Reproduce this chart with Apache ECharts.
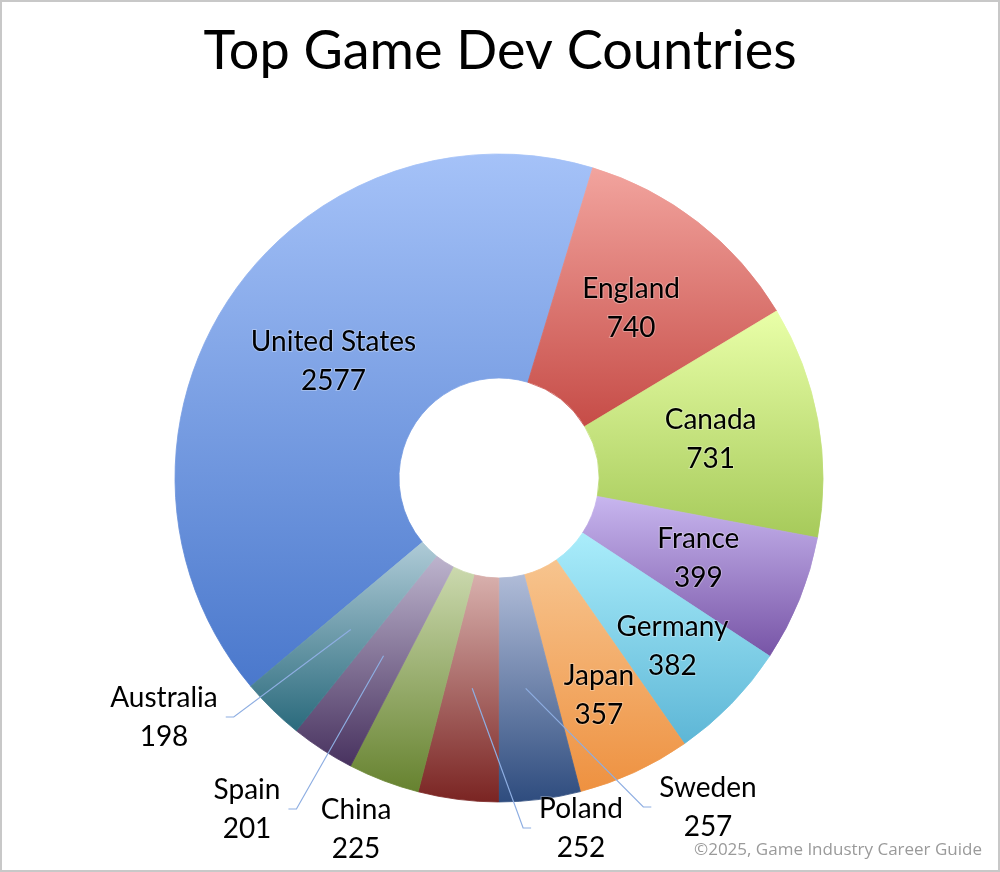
<!DOCTYPE html>
<html><head><meta charset="utf-8">
<script src="https://cdn.jsdelivr.net/npm/echarts@6/dist/echarts.min.js"></script>
<style>html,body{margin:0;padding:0;background:#fff}#c{width:1000px;height:872px}</style>
</head><body><div id="c"></div>
<script>
// ---- data ----
const countries = ['United States','England','Canada','France','Germany','Japan','Sweden','Poland','China','Spain','Australia'];
const devCounts = [2577,740,731,399,382,357,257,252,225,201,198];
const titleText = 'Top Game Dev Countries';
const creditText = '\u00A92025, Game Industry Career Guide';

// ---- styles ----
const gradTop    = ['#a5c2f8','#f2a49e','#e9ffa8','#c8b6ef','#aaedfb','#f7c48e','#b0bcd8','#d8b0ad','#cbd9ae','#bdb4cd','#afcbd7'];
const gradBottom = ['#4a78cc','#c64c47','#a6ca5a','#7754a6','#5db6d6','#ee9140','#2e4c7e','#7a2422','#66822f','#48325f','#2a6a7c'];
const insideSet = ['United States','England','Canada','France','Germany','Japan'];
const labelNudge = {'United States': [14, 2]};
const radialShift = {Germany: 27, Japan: 24};
const outsideLabel = {
  Australia: {pos:[164,717], side:'left', line:true},
  Spain:     {pos:[247,809], side:'left', line:true},
  China:     {pos:[356,829], line:false},
  Poland:    {pos:[581,828], side:'right', line:true},
  Sweden:    {pos:[708,807], side:'right', line:true}
};
const CX = 499, CY = 478;
const FONT = 'Lato';

const chart = echarts.init(document.getElementById('c'), null, {renderer:'canvas'});

const grad = i => ({type:'linear', x:0, y:0, x2:0, y2:1,
  colorStops:[{offset:0, color:gradTop[i]},{offset:1, color:gradBottom[i]}]});

const mainData = countries.map((n,i) => ({
  name: n, value: devCounts[i],
  itemStyle: {color: grad(i), borderColor: grad(i), borderWidth: 0.8},
  label: {show: insideSet.includes(n)}
}));
const labelData = countries.map((n,i) => ({
  name: n, value: devCounts[i],
  itemStyle: {color:'rgba(0,0,0,0)'},
  label: {show: !!outsideLabel[n]},
  labelLine: {show: !!(outsideLabel[n] && outsideLabel[n].line)}
}));

const labelText = {
  formatter: '{b}\n{c}', fontFamily: FONT, fontSize: 28, lineHeight: 39, color: '#000',
  textBorderColor: 'rgba(255,255,255,0.3)', textBorderWidth: 2
};

chart.setOption({
  animation: false,
  backgroundColor: '#fff',
  title: {text: titleText, left: 'center', top: 20,
    textStyle: {fontFamily: FONT, fontWeight: 'normal', fontSize: 54, color: '#000'}},
  graphic: [
    {type:'rect', shape:{x:1, y:1, width:998, height:870}, style:{fill:'none', stroke:'#c8c8c8', lineWidth:2}, silent:true, z: 100},
    {type:'text', right: 18, top: 842, style:{text: creditText, font: '17px "Open Sans"', fill:'#9a9a9a'}, silent:true, z: 100}
  ],
  series: [
    {
      type: 'pie', center: [CX, CY], radius: [100, 324], z: 2,
      startAngle: 220, clockwise: true, avoidLabelOverlap: false,
      emphasis: {disabled: true},
      label: Object.assign({position: 'inside'}, labelText),
      labelLine: {show: false},
      labelLayout: function (p) {
        const n = countries[p.dataIndex];
        if (labelNudge[n]) return {dx: labelNudge[n][0], dy: labelNudge[n][1]};
        const s = radialShift[n];
        if (!s) return {};
        const lx = p.labelRect.x + p.labelRect.width / 2 - CX;
        const ly = p.labelRect.y + p.labelRect.height / 2 - CY;
        const d = Math.sqrt(lx*lx + ly*ly);
        return {dx: lx / d * s, dy: ly / d * s};
      },
      data: mainData
    },
    {
      type: 'pie', center: [CX, CY], radius: [100, 212], z: 5,
      startAngle: 220, clockwise: true, avoidLabelOverlap: false, silent: true,
      emphasis: {disabled: true},
      label: Object.assign({position: 'outside'}, labelText),
      labelLine: {length: 20, length2: 10, lineStyle: {color: '#8eaee2', width: 1.2}},
      labelLayout: function (p) {
        const n = countries[p.dataIndex];
        const cfg = outsideLabel[n];
        if (!cfg) return {};
        const out = {x: cfg.pos[0], y: cfg.pos[1], align: 'center', verticalAlign: 'middle'};
        if (cfg.line && p.labelLinePoints) {
          const w = p.labelRect.width;
          const st = p.labelLinePoints[0];
          const endX = cfg.side === 'left' ? cfg.pos[0] + w / 2 + 7 : cfg.pos[0] - w / 2 - 7;
          const bendX = cfg.side === 'left' ? endX + 8 : endX - 8;
          out.labelLinePoints = [[st[0], st[1]], [bendX, cfg.pos[1]], [endX, cfg.pos[1]]];
        }
        return out;
      },
      data: labelData
    }
  ]
});
</script>
</body></html>
